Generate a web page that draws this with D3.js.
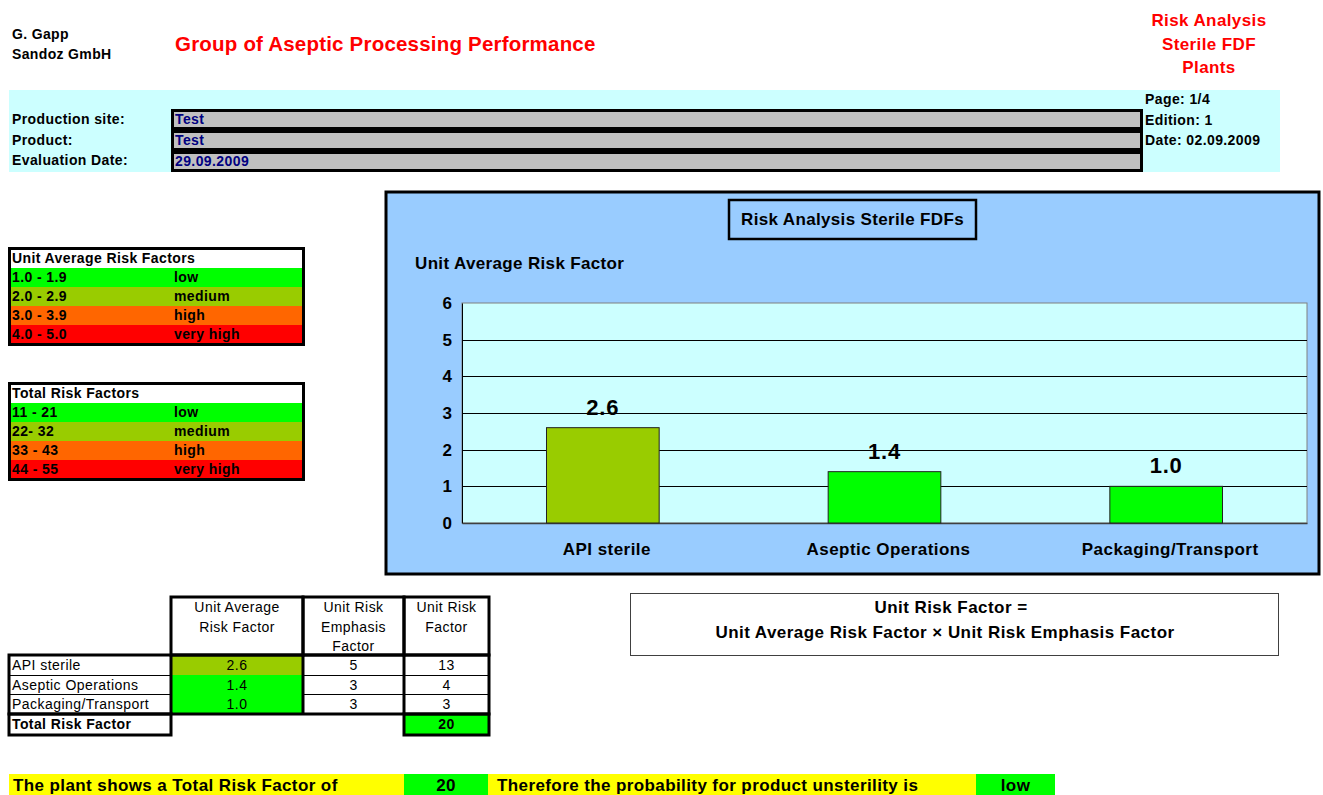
<!DOCTYPE html>
<html>
<head>
<meta charset="utf-8">
<script src="https://cdn.jsdelivr.net/npm/d3@7"></script>
<style>
  html, body { margin: 0; padding: 0; background: #ffffff; }
  svg { display: block; }
  text { font-family: "Liberation Sans", Arial, sans-serif; }
</style>
</head>
<body>
<svg id="chart" width="1323" height="795"></svg>
<script>
// ---------- data ----------
const categories = ["API sterile", "Aseptic Operations", "Packaging/Transport"];
const unitAverageRisk = [2.6, 1.4, 1.0];
const emphasisFactor = [5, 3, 3];
const unitRiskFactor = [13, 4, 3];
const totalRiskFactor = 20;
const yTicks = [0, 1, 2, 3, 4, 5, 6];
const probabilityText = "low";

const avgRanges = ["1.0 - 1.9", "2.0 - 2.9", "3.0 - 3.9", "4.0 - 5.0"];
const totalRanges = ["11 - 21", "22- 32", "33 - 43", "44 - 55"];
const riskLevels = ["low", "medium", "high", "very high"];
const riskColors = ["#00ff00", "#99cc00", "#ff6600", "#ff0000"];

const infoLabels = ["Production site:", "Product:", "Evaluation Date:"];
const infoValues = ["Test", "Test", "29.09.2009"];
const docInfo = ["Page: 1/4", "Edition: 1", "Date: 02.09.2009"];

function colorForAvg(v) {
  if (v < 2) return riskColors[0];
  if (v < 3) return riskColors[1];
  if (v < 4) return riskColors[2];
  return riskColors[3];
}

const svg = d3.select("#chart");
const F = "Liberation Sans, Arial, sans-serif";

// text helper
function T(parent, x, y, str, o = {}) {
  return parent.append("text").attr("x", x).attr("y", y)
    .attr("font-size", o.size || 14)
    .attr("font-weight", o.bold === false ? "normal" : "bold")
    .attr("letter-spacing", o.ls !== undefined ? o.ls : 0.4)
    .attr("text-anchor", o.anchor || "start")
    .attr("fill", o.fill || "#000")
    .text(str);
}

// ---------- header ----------
T(svg, 12, 39, "G. Gapp", { size: 14, ls: 0.35 });
T(svg, 12, 59, "Sandoz GmbH", { size: 14, ls: 0.35 });
T(svg, 175, 51, "Group of Aseptic Processing Performance", { size: 20.5, ls: 0.2, fill: "#ff0000" });
["Risk Analysis", "Sterile FDF", "Plants"].forEach((t, i) => {
  T(svg, 1209, 26 + i * 23.5, t, { size: 17, ls: 0.4, fill: "#ff0000", anchor: "middle" });
});

// cyan band
svg.append("rect").attr("x", 9).attr("y", 90).attr("width", 1271).attr("height", 82).attr("fill", "#ccffff");
infoLabels.forEach((t, i) => T(svg, 12, 124 + i * 20.5, t));
infoValues.forEach((t, i) => {
  const y = 109 + i * 21;
  svg.append("rect").attr("x", 172.5).attr("y", y + 1.5).attr("width", 969).attr("height", 18)
    .attr("fill", "#c0c0c0").attr("stroke", "#000").attr("stroke-width", 3);
  T(svg, 175, y + 15, t, { fill: "#000080" });
});
docInfo.forEach((t, i) => T(svg, 1145, 104 + i * 20.5, t));

// ---------- legend tables ----------
function legendTable(y0, title, ranges) {
  const g = svg.append("g");
  const rowH = 19;
  g.append("rect").attr("x", 10).attr("y", y0).attr("width", 293).attr("height", rowH).attr("fill", "#fff");
  T(g, 12, y0 + 14, title);
  ranges.forEach((r, i) => {
    const y = y0 + rowH * (i + 1);
    g.append("rect").attr("x", 10).attr("y", y).attr("width", 293).attr("height", rowH).attr("fill", riskColors[i]);
    T(g, 12, y + 14, r);
    T(g, 174, y + 14, riskLevels[i]);
  });
  g.append("rect").attr("x", 9.5).attr("y", y0 - 0.5).attr("width", 294).attr("height", rowH * 5 + 1)
    .attr("fill", "none").attr("stroke", "#000").attr("stroke-width", 3);
}
legendTable(249, "Unit Average Risk Factors", avgRanges);
legendTable(384, "Total Risk Factors", totalRanges);

// ---------- bar chart ----------
const box = { x: 386, y: 192, w: 933, h: 382 };
svg.append("rect").attr("x", box.x).attr("y", box.y).attr("width", box.w).attr("height", box.h)
  .attr("fill", "#99ccff").attr("stroke", "#000").attr("stroke-width", 3);

// title box
svg.append("rect").attr("x", 729).attr("y", 200).attr("width", 247).attr("height", 39)
  .attr("fill", "none").attr("stroke", "#000").attr("stroke-width", 2.5);
T(svg, 852.5, 225, "Risk Analysis Sterile FDFs", { size: 17, ls: 0.35, anchor: "middle" });
T(svg, 415, 269, "Unit Average Risk Factor", { size: 17, ls: 0.35 });

const plot = { l: 462, r: 1307, t: 303, b: 523 };
const x = d3.scaleBand().domain(categories).range([plot.l, plot.r]).paddingInner(0.6).paddingOuter(0.3);
const y = d3.scaleLinear().domain([0, 6]).range([plot.b, plot.t]);

svg.append("rect").attr("x", plot.l).attr("y", plot.t).attr("width", plot.r - plot.l).attr("height", plot.b - plot.t)
  .attr("fill", "#ccffff").attr("stroke", "#808080").attr("stroke-width", 1);

// gridlines
svg.append("g").selectAll("line").data(yTicks.filter(d => d > 0 && d < 6)).join("line")
  .attr("x1", plot.l).attr("x2", plot.r).attr("y1", d => Math.round(y(d)) + 0.5).attr("y2", d => Math.round(y(d)) + 0.5)
  .attr("stroke", "#000").attr("stroke-width", 1);

// y axis
const yAxis = svg.append("g").attr("transform", `translate(${plot.l},0)`)
  .call(d3.axisLeft(y).tickValues(yTicks).tickSize(0).tickPadding(10).tickFormat(d3.format("d")));
yAxis.select(".domain").attr("stroke", "#000");
yAxis.selectAll("text").attr("font-family", F).attr("font-size", 17).attr("font-weight", "bold").attr("fill", "#000");

// x axis
const xAxis = svg.append("g").attr("transform", `translate(0,${plot.b})`)
  .call(d3.axisBottom(x).tickSize(0).tickPadding(20));
xAxis.select(".domain").attr("stroke", "#404040").attr("stroke-width", 1.5);
xAxis.selectAll("text").attr("font-family", F).attr("font-size", 17).attr("font-weight", "bold")
  .attr("letter-spacing", 0.45).attr("fill", "#000").attr("dx", 4);

// bars
svg.append("g").selectAll("rect").data(categories).join("rect")
  .attr("x", d => x(d)).attr("width", x.bandwidth())
  .attr("y", (d, i) => y(unitAverageRisk[i]))
  .attr("height", (d, i) => y(0) - y(unitAverageRisk[i]))
  .attr("fill", (d, i) => colorForAvg(unitAverageRisk[i]))
  .attr("stroke", "#222").attr("stroke-width", 1);

// value labels
svg.append("g").selectAll("text").data(categories).join("text")
  .attr("x", d => x(d) + x.bandwidth() / 2)
  .attr("y", (d, i) => y(unitAverageRisk[i]) - 13)
  .attr("text-anchor", "middle").attr("font-size", 22).attr("font-weight", "bold").attr("letter-spacing", 0.8)
  .text((d, i) => d3.format(".1f")(unitAverageRisk[i]));

// ---------- bottom table ----------
const cols = [9, 171, 303, 404, 489];
const headers = [["Unit Average", "Risk Factor"], ["Unit Risk", "Emphasis", "Factor"], ["Unit Risk", "Factor"]];
const hdrTop = 597, hdrBot = 655;
const rowYs = [655, 675, 694, 714];
const tg = svg.append("g");
const N = { bold: false, size: 14, ls: 0.45 };

headers.forEach((lines, c) => {
  const cx = (cols[c + 1] + cols[c + 2]) / 2;
  lines.forEach((t, k) => T(tg, cx, 612 + k * 19.5, t, { ...N, anchor: "middle" }));
});

categories.forEach((cat, i) => {
  const y0 = rowYs[i], y1 = rowYs[i + 1];
  tg.append("rect").attr("x", cols[1]).attr("y", y0).attr("width", cols[2] - cols[1]).attr("height", y1 - y0)
    .attr("fill", colorForAvg(unitAverageRisk[i]));
  T(tg, 12, y0 + 15, cat, N);
  const vals = [d3.format(".1f")(unitAverageRisk[i]), emphasisFactor[i], unitRiskFactor[i]];
  vals.forEach((v, c) => T(tg, (cols[c + 1] + cols[c + 2]) / 2, y0 + 15, v, { ...N, anchor: "middle" }));
  if (i < categories.length - 1) {
    tg.append("line").attr("x1", cols[0]).attr("x2", cols[4]).attr("y1", y1 + 0.5).attr("y2", y1 + 0.5)
      .attr("stroke", "#000").attr("stroke-width", 1);
  }
});

// total row
tg.append("rect").attr("x", cols[3]).attr("y", 714).attr("width", cols[4] - cols[3]).attr("height", 20).attr("fill", "#00ff00");
T(tg, 12, 729, "Total Risk Factor");
T(tg, (cols[3] + cols[4]) / 2, 729, totalRiskFactor, { anchor: "middle" });

// thick borders
const thick = (x0, y0, w, h) => tg.append("rect").attr("x", x0).attr("y", y0).attr("width", w).attr("height", h)
  .attr("fill", "none").attr("stroke", "#000").attr("stroke-width", 3);
for (let c = 1; c < 4; c++) thick(cols[c], hdrTop, cols[c + 1] - cols[c], hdrBot - hdrTop);
thick(cols[0], 655, cols[4] - cols[0], 59);
for (let c = 1; c < 4; c++) {
  tg.append("line").attr("x1", cols[c]).attr("x2", cols[c]).attr("y1", 655).attr("y2", 714)
    .attr("stroke", "#000").attr("stroke-width", 3);
}
thick(cols[0], 714, cols[1] - cols[0], 21);
thick(cols[3], 714, cols[4] - cols[3], 21);

// formula box
svg.append("rect").attr("x", 630.5).attr("y", 593.5).attr("width", 648).attr("height", 62)
  .attr("fill", "#fff").attr("stroke", "#404040").attr("stroke-width", 1);
T(svg, 951, 613, "Unit Risk Factor =", { size: 17, ls: 0.45, anchor: "middle" });
T(svg, 945, 638, "Unit Average Risk Factor \u00d7 Unit Risk Emphasis Factor", { size: 17, ls: 0.45, anchor: "middle" });

// ---------- conclusion line ----------
const bandY = 774, bandH = 22;
const segs = [
  { x0: 9, x1: 404, fill: "#ffff00", text: "The plant shows a Total Risk Factor of", anchor: "start", pad: 4 },
  { x0: 404, x1: 488, fill: "#00ff00", text: String(totalRiskFactor), anchor: "middle" },
  { x0: 488, x1: 976, fill: "#ffff00", text: "Therefore the probability for product unsterility is", anchor: "start", pad: 9 },
  { x0: 976, x1: 1055, fill: "#00ff00", text: probabilityText, anchor: "middle" }
];
segs.forEach(s => {
  svg.append("rect").attr("x", s.x0).attr("y", bandY).attr("width", s.x1 - s.x0).attr("height", bandH).attr("fill", s.fill);
  T(svg, s.anchor === "middle" ? (s.x0 + s.x1) / 2 : s.x0 + s.pad, bandY + 17, s.text,
    { size: 17, ls: 0.4, anchor: s.anchor });
});
</script>
</body>
</html>
